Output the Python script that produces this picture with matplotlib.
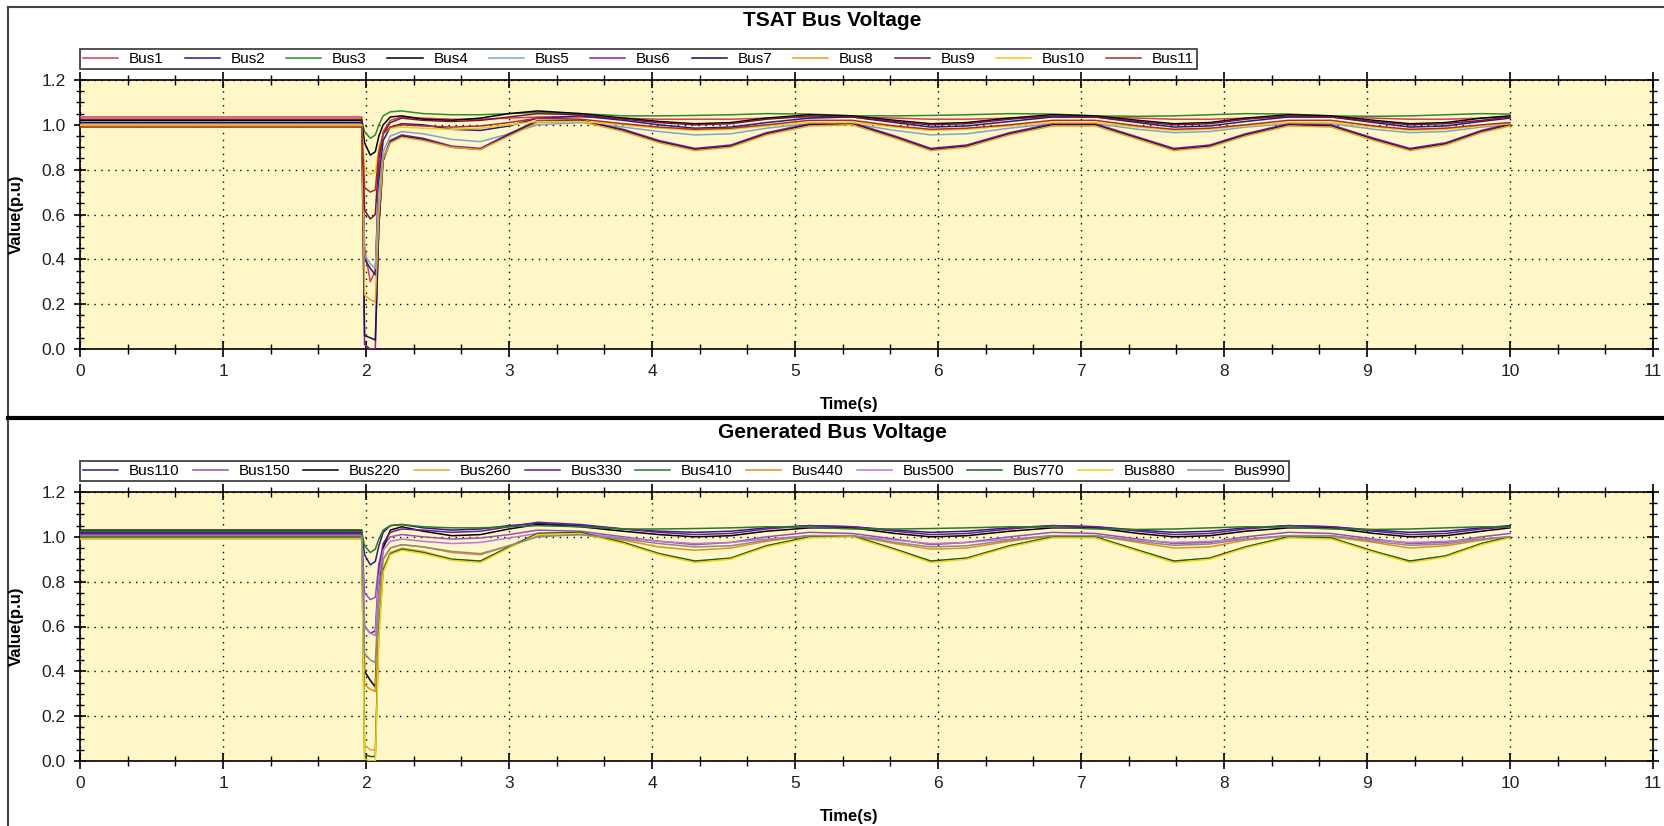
import matplotlib
matplotlib.use('Agg')
import matplotlib.pyplot as plt
from matplotlib import font_manager
from matplotlib.lines import Line2D
from matplotlib.ticker import MultipleLocator, FormatStrFormatter

names_avail = {f.name for f in font_manager.fontManager.ttflist}
FAM = 'Liberation Sans Narrow' if 'Liberation Sans Narrow' in names_avail else 'Liberation Sans'
plt.rcParams['font.family'] = [FAM, 'DejaVu Sans']

# ---------------- data ----------------
TIME = [0, 1.97, 1.99, 2.03, 2.065,
        2.09, 2.12, 2.17, 2.25, 2.4,
        2.6, 2.8, 3.0, 3.2, 3.5,
        3.8, 4.05, 4.3, 4.55, 4.8,
        5.1, 5.4, 5.7, 5.95, 6.2,
        6.5, 6.8, 7.1, 7.4, 7.65,
        7.9, 8.15, 8.45, 8.75, 9.05,
        9.3, 9.55, 9.8, 10.0]

TSAT_NAMES = ['Bus1', 'Bus2', 'Bus3', 'Bus4', 'Bus5', 'Bus6', 'Bus7', 'Bus8', 'Bus9', 'Bus10', 'Bus11']
TSAT_COLORS = ['#D0405A', '#1E1E8C', '#2E8B2E', '#000000', '#78A8C8', '#8E1E9E',
               '#141452', '#E8A020', '#7A1434', '#F2C81E', '#A8302A']

bus1 = [1.035, 1.035, 0.45, 0.30, 0.35, 0.80, 0.97, 1.02, 1.035, 1.03,
        1.025, 1.025, 1.03, 1.035, 1.035, 1.03, 1.025, 1.025, 1.025, 1.03,
        1.035, 1.035, 1.03, 1.025, 1.025, 1.03, 1.035, 1.035, 1.03, 1.025,
        1.025, 1.03, 1.035, 1.035, 1.03, 1.025, 1.025, 1.03, 1.035]
bus2 = [1.01, 1.01, 0.40, 0.36, 0.33, 0.75, 0.93, 0.99, 1.005, 1.0,
        0.98, 0.975, 0.995, 1.03, 1.04, 1.02, 1.0, 0.985, 0.99, 1.01,
        1.03, 1.035, 1.01, 0.99, 0.995, 1.015, 1.035, 1.035, 1.01, 0.99,
        0.995, 1.015, 1.035, 1.035, 1.01, 0.99, 0.995, 1.015, 1.03]
bus3 = [1.02, 1.02, 0.97, 0.94, 0.955, 1.0, 1.04, 1.058, 1.062, 1.05,
        1.045, 1.045, 1.05, 1.055, 1.05, 1.04, 1.04, 1.042, 1.045, 1.05,
        1.048, 1.04, 1.04, 1.042, 1.045, 1.05, 1.048, 1.04, 1.038, 1.04,
        1.045, 1.05, 1.048, 1.04, 1.038, 1.04, 1.045, 1.05, 1.048]
bus4 = [1.02, 1.02, 0.92, 0.865, 0.88, 0.95, 1.0, 1.035, 1.04, 1.025,
        1.02, 1.03, 1.05, 1.062, 1.05, 1.03, 1.015, 1.005, 1.01, 1.03,
        1.045, 1.04, 1.02, 1.005, 1.01, 1.03, 1.045, 1.04, 1.02, 1.005,
        1.01, 1.03, 1.045, 1.04, 1.02, 1.005, 1.01, 1.03, 1.04]
bus5 = [1.0, 1.0, 0.42, 0.38, 0.36, 0.70, 0.88, 0.95, 0.97, 0.96,
        0.935, 0.925, 0.96, 1.0, 1.01, 0.99, 0.97, 0.955, 0.96, 0.985,
        1.005, 1.005, 0.975, 0.955, 0.96, 0.985, 1.005, 1.005, 0.98, 0.965,
        0.97, 0.99, 1.005, 1.005, 0.98, 0.965, 0.97, 0.99, 1.0]
bus6 = [1.0, 1.0, 0.02, 0.0, 0.0, 0.55, 0.85, 0.93, 0.955, 0.94,
        0.905, 0.895, 0.96, 1.02, 1.02, 0.98, 0.93, 0.895, 0.91, 0.965,
        1.005, 1.01, 0.95, 0.895, 0.91, 0.965, 1.005, 1.005, 0.945, 0.895,
        0.91, 0.96, 1.005, 1.0, 0.94, 0.895, 0.92, 0.975, 1.005]
bus7 = [1.01, 1.01, 0.06, 0.05, 0.04, 0.55, 0.84, 0.925, 0.95, 0.935,
        0.9, 0.89, 0.955, 1.015, 1.02, 0.975, 0.925, 0.89, 0.905, 0.96,
        1.0, 1.005, 0.945, 0.89, 0.905, 0.96, 1.0, 1.0, 0.94, 0.89,
        0.905, 0.955, 1.0, 0.995, 0.935, 0.89, 0.915, 0.97, 1.0]
bus8 = [0.995, 0.995, 0.24, 0.22, 0.21, 0.6, 0.85, 0.92, 0.945, 0.93,
        0.9, 0.89, 0.95, 1.01, 1.015, 0.97, 0.92, 0.885, 0.9, 0.955,
        0.995, 1.0, 0.94, 0.885, 0.9, 0.955, 0.995, 0.995, 0.935, 0.885,
        0.9, 0.95, 0.995, 0.99, 0.93, 0.885, 0.91, 0.965, 0.995]
bus9 = [1.025, 1.025, 0.62, 0.58, 0.60, 0.85, 0.96, 1.01, 1.03, 1.02,
        1.015, 1.02, 1.035, 1.05, 1.045, 1.025, 1.01, 1.0, 1.005, 1.025,
        1.04, 1.035, 1.015, 1.0, 1.005, 1.025, 1.04, 1.035, 1.015, 1.0,
        1.005, 1.025, 1.04, 1.035, 1.015, 1.0, 1.005, 1.02, 1.035]
bus10 = [1.0, 1.0, 0.8, 0.78, 0.79, 0.9, 0.96, 0.985, 0.99, 0.985,
         0.98, 0.985, 1.0, 1.015, 1.015, 1.0, 0.985, 0.975, 0.98, 0.995,
         1.01, 1.01, 0.99, 0.975, 0.98, 0.995, 1.01, 1.01, 0.99, 0.975,
         0.98, 0.995, 1.01, 1.01, 0.99, 0.975, 0.98, 0.995, 1.005]
bus11 = [0.99, 0.99, 0.72, 0.70, 0.71, 0.88, 0.96, 0.99, 1.0, 0.995,
         0.99, 0.995, 1.01, 1.03, 1.025, 1.005, 0.99, 0.98, 0.985, 1.0,
         1.02, 1.02, 0.995, 0.98, 0.985, 1.0, 1.02, 1.02, 0.995, 0.98,
         0.985, 1.0, 1.02, 1.02, 0.995, 0.98, 0.985, 1.0, 1.01]

GEN_NAMES = ['Bus110', 'Bus150', 'Bus220', 'Bus260', 'Bus330', 'Bus410',
             'Bus440', 'Bus500', 'Bus770', 'Bus880', 'Bus990']
GEN_COLORS = ['#22228A', '#9A50B0', '#000000', '#E8A830', '#6A1A9A', '#2A7A2A',
              '#E09020', '#B878D8', '#1A5E1A', '#F0D21E', '#8A8A8A']

bus110 = [1.02, 1.02, 0.92, 0.875, 0.89, 0.96, 1.02, 1.05, 1.055, 1.04,
          1.03, 1.035, 1.05, 1.06, 1.05, 1.035, 1.025, 1.02, 1.025, 1.04,
          1.05, 1.045, 1.03, 1.02, 1.025, 1.04, 1.05, 1.045, 1.03, 1.02,
          1.025, 1.04, 1.05, 1.045, 1.03, 1.02, 1.025, 1.04, 1.05]
bus150 = [1.01, 1.01, 0.75, 0.72, 0.73, 0.88, 0.96, 1.0, 1.01, 1.0,
          0.99, 0.995, 1.01, 1.03, 1.025, 1.0, 0.98, 0.965, 0.975, 1.0,
          1.02, 1.015, 0.99, 0.965, 0.975, 1.0, 1.02, 1.015, 0.99, 0.97,
          0.975, 1.0, 1.02, 1.015, 0.99, 0.97, 0.975, 1.0, 1.015]
bus220 = [1.03, 1.03, 0.40, 0.36, 0.33, 0.75, 0.95, 1.03, 1.045, 1.025,
          1.005, 1.01, 1.035, 1.055, 1.045, 1.025, 1.01, 1.0, 1.005, 1.025,
          1.04, 1.04, 1.015, 1.0, 1.005, 1.025, 1.04, 1.04, 1.015, 1.0,
          1.005, 1.025, 1.04, 1.04, 1.015, 1.0, 1.005, 1.025, 1.04]
bus260 = [0.995, 0.995, 0.07, 0.05, 0.05, 0.6, 0.86, 0.93, 0.95, 0.935,
          0.9, 0.89, 0.955, 1.015, 1.02, 0.975, 0.925, 0.89, 0.905, 0.96,
          1.0, 1.005, 0.945, 0.89, 0.905, 0.96, 1.0, 1.0, 0.94, 0.89,
          0.905, 0.955, 1.0, 0.995, 0.935, 0.89, 0.915, 0.97, 1.0]
bus330 = [1.015, 1.015, 0.6, 0.57, 0.58, 0.85, 0.97, 1.02, 1.035, 1.03,
          1.02, 1.025, 1.045, 1.065, 1.055, 1.035, 1.02, 1.01, 1.015, 1.035,
          1.05, 1.045, 1.025, 1.01, 1.015, 1.035, 1.05, 1.045, 1.025, 1.01,
          1.015, 1.035, 1.05, 1.045, 1.025, 1.01, 1.015, 1.035, 1.045]
bus410 = [1.025, 1.025, 0.96, 0.93, 0.945, 0.99, 1.03, 1.05, 1.055, 1.045,
          1.04, 1.04, 1.045, 1.05, 1.045, 1.035, 1.035, 1.037, 1.04, 1.045,
          1.043, 1.035, 1.035, 1.037, 1.04, 1.045, 1.043, 1.035, 1.033, 1.035,
          1.04, 1.045, 1.043, 1.035, 1.033, 1.035, 1.04, 1.045, 1.043]
bus440 = [1.0, 1.0, 0.34, 0.32, 0.31, 0.7, 0.9, 0.95, 0.965, 0.955,
          0.93, 0.92, 0.96, 1.005, 1.01, 0.985, 0.955, 0.94, 0.95, 0.98,
          1.005, 1.005, 0.97, 0.945, 0.95, 0.98, 1.005, 1.005, 0.975, 0.95,
          0.955, 0.985, 1.005, 1.0, 0.975, 0.95, 0.96, 0.985, 1.0]
bus500 = [0.99, 0.99, 0.6, 0.57, 0.56, 0.82, 0.94, 0.98, 0.99, 0.98,
          0.97, 0.975, 0.995, 1.015, 1.015, 0.995, 0.98, 0.97, 0.975, 0.99,
          1.005, 1.005, 0.985, 0.97, 0.975, 0.99, 1.005, 1.005, 0.985, 0.975,
          0.98, 0.99, 1.005, 1.005, 0.985, 0.975, 0.98, 0.99, 1.0]
bus770 = [1.0, 1.0, 0.03, 0.02, 0.02, 0.58, 0.85, 0.925, 0.945, 0.93,
          0.9, 0.892, 0.955, 1.015, 1.02, 0.975, 0.925, 0.892, 0.905, 0.96,
          1.0, 1.005, 0.945, 0.892, 0.905, 0.96, 1.0, 1.0, 0.94, 0.892,
          0.905, 0.955, 1.0, 0.995, 0.935, 0.892, 0.915, 0.97, 1.0]
bus880 = [0.99, 0.99, 0.01, 0.0, 0.0, 0.55, 0.84, 0.92, 0.94, 0.925,
          0.895, 0.885, 0.95, 1.01, 1.015, 0.97, 0.92, 0.885, 0.9, 0.955,
          0.995, 1.0, 0.94, 0.885, 0.9, 0.955, 0.995, 0.995, 0.935, 0.885,
          0.9, 0.95, 0.995, 0.99, 0.93, 0.885, 0.91, 0.965, 0.995]
bus990 = [1.005, 1.005, 0.48, 0.45, 0.44, 0.75, 0.9, 0.95, 0.965, 0.955,
          0.935, 0.925, 0.96, 1.0, 1.01, 0.99, 0.97, 0.955, 0.96, 0.985,
          1.005, 1.005, 0.975, 0.955, 0.96, 0.985, 1.005, 1.005, 0.98, 0.962,
          0.968, 0.99, 1.005, 1.005, 0.98, 0.962, 0.968, 0.99, 1.0]

TSAT_SERIES = [bus1, bus2, bus3, bus4, bus5, bus6, bus7, bus8, bus9, bus10, bus11]
GEN_SERIES = [bus110, bus150, bus220, bus260, bus330, bus410, bus440, bus500, bus770, bus880, bus990]

X_TICKS = list(range(0, 12))
Y_TICKS = [0.0, 0.2, 0.4, 0.6, 0.8, 1.0, 1.2]

# ---------------- layout ----------------
W, H = 1664, 826
fig = plt.figure(figsize=(W / 100, H / 100), dpi=100)
fig.patch.set_facecolor('white')


def fx(x):
    return x / W


def fy(y):
    return 1 - y / H


X0, X1 = 80, 1653
AX_TOP = 80
AX_H = 269
LEG_FS = 11


def make_legend(ax, handles, offset, cs):
    leg = ax.legend(handles=handles, ncol=11, loc='lower left',
                    bbox_to_anchor=(fx(80), fy(69 + offset)),
                    bbox_transform=fig.transFigure, borderaxespad=0,
                    frameon=True, fancybox=False, edgecolor='black',
                    fontsize=LEG_FS, handlelength=2.3, handletextpad=0.7,
                    columnspacing=cs, borderpad=0.2)
    leg.get_frame().set_linewidth(1.2)
    return leg


def draw_panel(offset, names, colors, series, title, leg_right):
    top = AX_TOP + offset
    ax = fig.add_axes([fx(X0), fy(top + AX_H), (X1 - X0) / W, AX_H / H])
    ax.set_facecolor('#FFF7C8')
    handles = []
    for n, c, v in zip(names, colors, series):
        ln, = ax.plot(TIME, v, color=c, lw=1.1, label=n, zorder=3)
        handles.append(ln)
    ax.set_xlim(0, 11)
    ax.set_ylim(0, 1.2)
    ax.set_xticks(X_TICKS)
    ax.set_yticks(Y_TICKS)
    ax.xaxis.set_minor_locator(MultipleLocator(1 / 3))
    ax.yaxis.set_minor_locator(MultipleLocator(0.05))
    ax.yaxis.set_major_formatter(FormatStrFormatter('%.1f'))
    ax.grid(which='major', color='black', linestyle=(0, (1, 4)), linewidth=1.0, zorder=1)
    ax.tick_params(which='both', direction='inout', top=True, right=True,
                   labelsize=12.5, colors='black')
    ax.tick_params(axis='x', which='major', length=12, width=1.2, pad=5)
    ax.tick_params(axis='x', which='minor', length=7, width=1.0)
    ax.tick_params(axis='y', which='major', length=9, width=1.2, pad=6)
    ax.tick_params(axis='y', which='minor', length=6, width=1.0)
    for s in ax.spines.values():
        s.set_color('black')
        s.set_linewidth(1.2)
    for lbl in ax.get_xticklabels() + ax.get_yticklabels():
        lbl.set_color('#222222')

    # legend, spacing fitted so the box spans the same width as the reference
    cs = 1.0
    leg = make_legend(ax, handles, offset, cs)
    fig.canvas.draw()
    bw = leg.get_window_extent(fig.canvas.get_renderer()).width
    fs_px = LEG_FS * 100 / 72
    cs = max(0.3, cs + ((leg_right - 80) - bw) / (10 * fs_px))
    leg.remove()
    make_legend(ax, handles, offset, cs)

    fig.text(fx(832), fy(21 + offset), title, ha='center', va='center',
             fontsize=15, fontweight='bold')
    fig.text(fx(849), fy(404 + offset), 'Time(s)', ha='center', va='center',
             fontsize=12, fontweight='bold')
    fig.text(fx(16), fy(top + AX_H / 2), 'Value(p.u)', ha='center', va='center',
             rotation=90, fontsize=12, fontweight='bold')
    return ax


draw_panel(0, TSAT_NAMES, TSAT_COLORS, TSAT_SERIES, 'TSAT Bus Voltage', 1197)
draw_panel(412, GEN_NAMES, GEN_COLORS, GEN_SERIES, 'Generated Bus Voltage', 1289)

# window borders
fig.add_artist(Line2D([fx(8), fx(8)], [fy(7), fy(826)], transform=fig.transFigure,
                      color='#444444', lw=1.5))
fig.add_artist(Line2D([fx(8), fx(1664)], [fy(7), fy(7)], transform=fig.transFigure,
                      color='#444444', lw=1.5))
fig.add_artist(Line2D([fx(8), fx(1664)], [fy(418), fy(418)], transform=fig.transFigure,
                      color='black', lw=3))

fig.savefig('out.png', dpi=100, facecolor='white')
